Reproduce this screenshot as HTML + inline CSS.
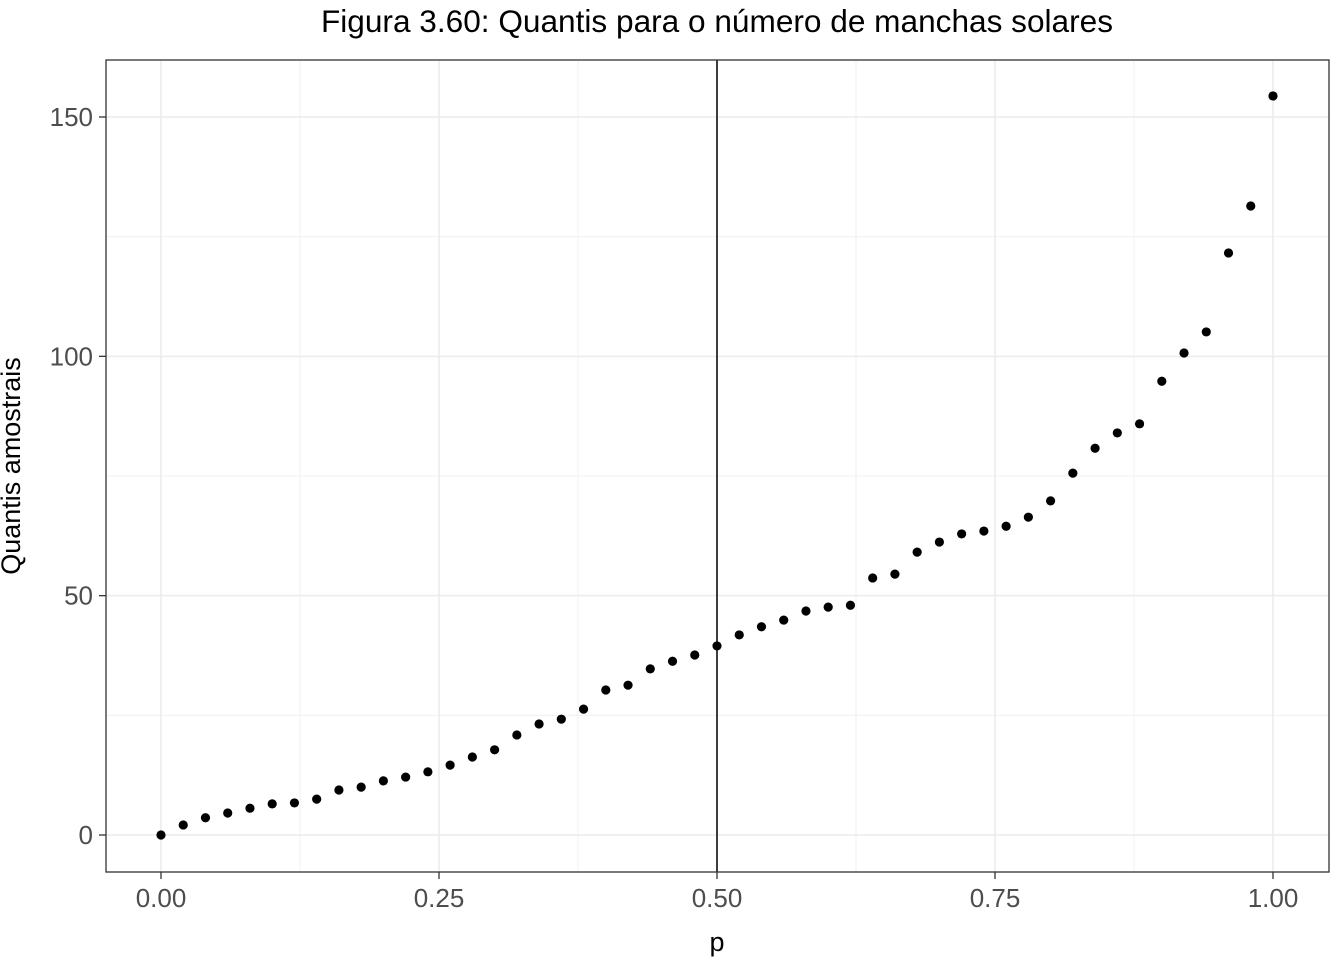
<!DOCTYPE html>
<html><head><meta charset="utf-8"><style>
body{margin:0;background:#fff;}
svg{display:block;font-family:"Liberation Sans",Arial,sans-serif;}
</style></head><body>
<svg id="chart" width="1344" height="960">
<text x="717" y="32" text-anchor="middle" font-size="31.6" fill="#000">Figura 3.60: Quantis para o número de manchas solares</text>
<g id="grid"></g>
<g id="marks"></g>
<rect x="106" y="60" width="1223" height="812" fill="none" stroke="#333" stroke-width="1.3"/>
<g id="axes"></g>
<text x="717" y="951" text-anchor="middle" font-size="27" fill="#000">p</text>
<text transform="translate(20,466) rotate(-90)" text-anchor="middle" font-size="27" fill="#000">Quantis amostrais</text>
</svg>
<script>
const pValues=[0,0.02,0.04,0.06,0.08,0.10,0.12,0.14,0.16,0.18,0.20,0.22,0.24,0.26,0.28,0.30,0.32,0.34,0.36,0.38,0.40,0.42,0.44,0.46,0.48,0.50,0.52,0.54,0.56,0.58,0.60,0.62,0.64,0.66,0.68,0.70,0.72,0.74,0.76,0.78,0.80,0.82,0.84,0.86,0.88,0.90,0.92,0.94,0.96,0.98,1.00];
const quantiles=[0,2.1,3.6,4.6,5.6,6.5,6.7,7.5,9.4,10.0,11.3,12.1,13.2,14.6,16.3,17.8,20.9,23.2,24.2,26.3,30.3,31.3,34.7,36.3,37.6,39.5,41.8,43.5,44.9,46.8,47.6,48.0,53.7,54.5,59.1,61.2,62.9,63.5,64.5,66.4,69.8,75.6,80.8,84.0,85.9,94.8,100.7,105.1,121.6,131.4,154.4];
const xTicks=[0,0.25,0.5,0.75,1];
const xTickLabels=["0.00","0.25","0.50","0.75","1.00"];
const xMinor=[0.125,0.375,0.625,0.875];
const yTicks=[0,50,100,150];
const yMinor=[25,75,125];
const vline=0.5;
const NS="http://www.w3.org/2000/svg";
const xs=v=>161+v*(1273-161);
const ys=v=>835-v*(835-117)/150;
function mk(t,a,parent){const e=document.createElementNS(NS,t);for(const k in a)e.setAttribute(k,a[k]);document.getElementById(parent).appendChild(e);return e;}
xMinor.forEach(v=>{const l=mk('line',{x1:xs(v),x2:xs(v),y1:60,y2:872,stroke:'#f0f0f0','stroke-width':1},'grid');

});
yMinor.forEach(v=>{const l=mk('line',{x1:106,x2:1329,y1:ys(v),y2:ys(v),stroke:'#f0f0f0','stroke-width':1},'grid');

});
xTicks.forEach((v,i)=>{const l=mk('line',{x1:xs(v),x2:xs(v),y1:60,y2:872,stroke:'#ebebeb','stroke-width':1.5},'grid');


const t=mk('line',{x1:xs(v),x2:xs(v),y1:872,y2:879,stroke:'#333','stroke-width':1.3},'axes');


const tx=mk('text',{x:xs(v),y:907,'text-anchor':'middle','font-size':26,fill:'#4d4d4d'},'axes');tx.textContent=xTickLabels[i];

});
yTicks.forEach(v=>{const l=mk('line',{x1:106,x2:1329,y1:ys(v),y2:ys(v),stroke:'#ebebeb','stroke-width':1.5},'grid');


const t=mk('line',{x1:99,x2:106,y1:ys(v),y2:ys(v),stroke:'#333','stroke-width':1.3},'axes');


const tx=mk('text',{x:93,y:ys(v)+9,'text-anchor':'end','font-size':26,fill:'#4d4d4d'},'axes');tx.textContent=v;

});
const vl=mk('line',{x1:xs(vline),x2:xs(vline),y1:60,y2:872,stroke:'#000','stroke-width':1.5},'marks');


pValues.forEach((p,i)=>{const c=mk('circle',{cx:xs(p),cy:ys(quantiles[i]),r:4.6,fill:'#000'},'marks');

});
</script>
</body></html>
